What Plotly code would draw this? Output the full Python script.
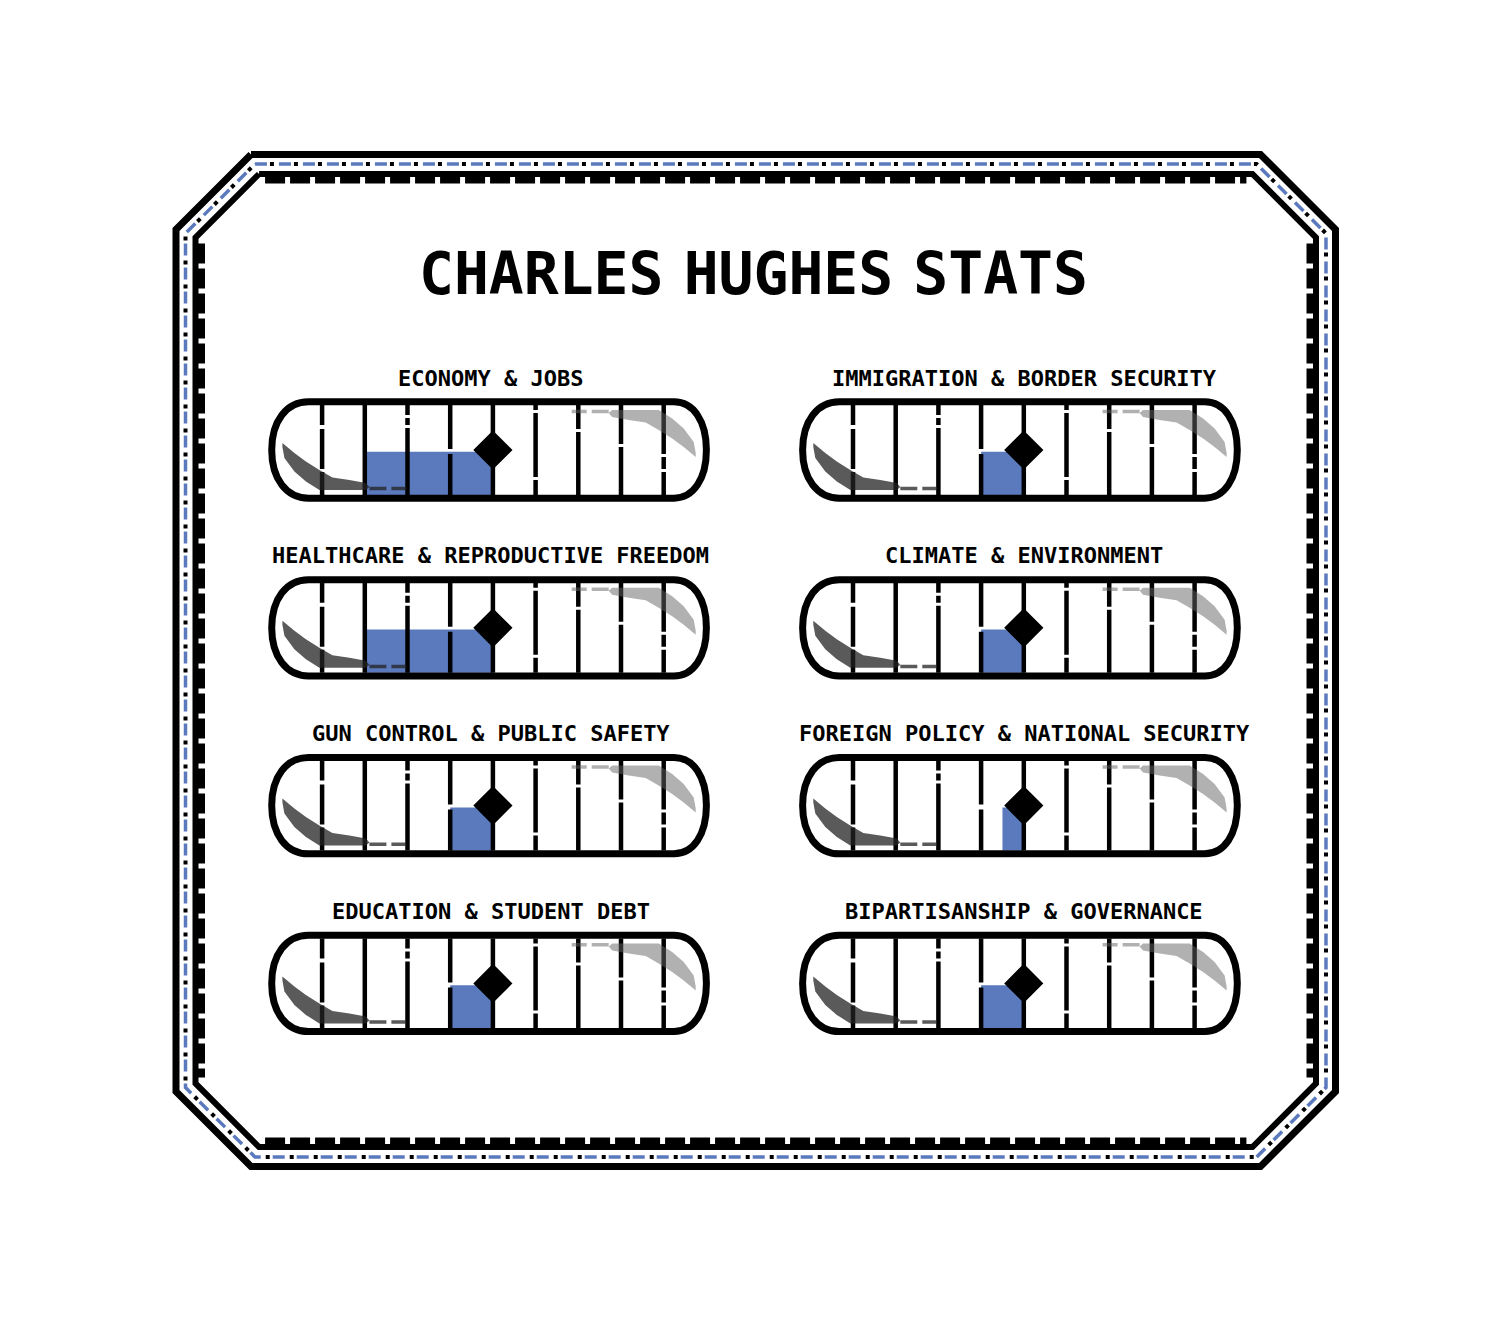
import plotly.graph_objects as go

# ---------------- data ----------------
title_text = "CHARLES HUGHES STATS"
topics = [
    "ECONOMY & JOBS", "IMMIGRATION & BORDER SECURITY",
    "HEALTHCARE & REPRODUCTIVE FREEDOM", "CLIMATE & ENVIRONMENT",
    "GUN CONTROL & PUBLIC SAFETY", "FOREIGN POLICY & NATIONAL SECURITY",
    "EDUCATION & STUDENT DEBT", "BIPARTISANSHIP & GOVERNANCE",
]
scores = [2, 4, 2, 4, 4, 4.5, 4, 4]
neutral = 5
scale_min, scale_max = 0, 10
tick_values = [1, 2, 3, 4, 5, 6, 7, 8, 9]

# ---------------- style / layout constants ----------------
W, H = 1512, 1323
BLUE = "#5a7abd"
FONT = "DejaVu Sans Mono"
UNIT = 42.7          # px per scale unit
INNER_H = 90.0       # px of gauge inner height (y axis 0..1)
COL_ZERO = [279.4, 810.3]
ROW_BOTTOM0, ROW_STEP = 495.0, 177.8
LABEL_X = [490.5, 1024.0]
LABEL_Y0 = 378.0
BAR_H = 0.48
# glint gaps on grid lines (px from top of gauge interior), per tick
GAPS = {1: [(20, 24), (64, 67)], 2: [], 3: [(10, 13), (20, 23)], 4: [(44, 49)],
        5: [], 6: [(5, 8), (72, 75)], 7: [(24, 27)], 8: [(39, 42)],
        9: [(49, 52), (64, 67)]}


def px_x(p):
    return p / W


def px_y(p):
    return 1 - p / H


fig = go.Figure()
shapes = []
annotations = []

# ---------------- card border ----------------
def octagon(L, T, R, B, c):
    pts = [(L + c, T), (R - c, T), (R, T + c), (R, B - c), (R - c, B),
           (L + c, B), (L, B - c), (L, T + c), (L + c, T)]
    return "M" + " L".join(f"{px_x(x):.5f},{px_y(y):.5f}" for x, y in pts)


L0, T0, R0, B0, C0 = 176.0, 154.5, 1335.5, 1166.5, 75.0


def inset(d):
    return L0 + d, T0 + d, R0 - d, B0 - d, C0 - 0.5858 * d


shapes.append(dict(type="path", xref="paper", yref="paper", path=octagon(L0, T0, R0, B0, C0),
                   line=dict(color="black", width=7)))
shapes.append(dict(type="path", xref="paper", yref="paper", path=octagon(*inset(9.5)),
                   line=dict(color=BLUE, width=3.5, dash="12px,12px")))
shapes.append(dict(type="path", xref="paper", yref="paper", path=octagon(*inset(9.5)),
                   line=dict(color="black", width=4, dash="0px,15px,4px,5px")))
Li, Ti, Ri, Bi, Ci = inset(19.5)
shapes.append(dict(type="path", xref="paper", yref="paper", path=octagon(Li, Ti, Ri, Bi, Ci),
                   line=dict(color="black", width=6)))
# scalloped inner band (straight sides only)
bd = 6.0
for (x0, y0, x1, y1) in [
    (Li + Ci + 6, Ti + bd, Ri - Ci - 6, Ti + bd),
    (Li + Ci + 6, Bi - bd, Ri - Ci - 6, Bi - bd),
    (Li + bd, Ti + Ci + 6, Li + bd, Bi - Ci - 6),
    (Ri - bd, Ti + Ci + 6, Ri - bd, Bi - Ci - 6),
]:
    shapes.append(dict(type="line", xref="paper", yref="paper",
                       x0=px_x(x0), y0=px_y(y0), x1=px_x(x1), y1=px_y(y1),
                       line=dict(color="black", width=7, dash="20px,5px")))

# ---------------- title ----------------
narrow_space = "<span style='font-family:DejaVu Sans'> </span>"
annotations.append(dict(text="<b>" + title_text.replace(" ", narrow_space) + "</b>",
                        x=px_x(753.5), y=px_y(273.5),
                        xref="paper", yref="paper", showarrow=False,
                        xanchor="center", yanchor="middle",
                        font=dict(family=FONT, size=58, color="black")))

# ---------------- gauges ----------------
X_RANGE = [-0.5, 10.5]
Y_RANGE = [-0.35, 1.35]
PILL_L, PILL_R = -0.18, 10.0
CAP_RX_L, CAP_RX_R = 0.86, 0.76
PILL_TOP, PILL_BOT = 1.035, -0.035
K = 0.6
CENTER_X = (PILL_L + PILL_R) / 2

dark_top = [(3, 52), (15, 42), (26.5, 33.5), (40, 25), (53, 17.5), (70, 15), (86.5, 12), (90, 8)]
dark_bot = [(86.5, 5), (40, 5), (26.5, 13.5), (15, 23.5), (5, 37), (3, 48)]

for i, (topic, score) in enumerate(zip(topics, scores)):
    r, c = divmod(i, 2)
    n = i + 2
    xa, ya = f"x{n}", f"y{n}"
    zero = COL_ZERO[c]
    bottom = ROW_BOTTOM0 + ROW_STEP * r
    fig.update_layout({
        f"xaxis{n}": dict(domain=[px_x(zero + X_RANGE[0] * UNIT), px_x(zero + X_RANGE[1] * UNIT)],
                          range=X_RANGE, visible=False, fixedrange=True, anchor=ya),
        f"yaxis{n}": dict(domain=[px_y(bottom - Y_RANGE[0] * INNER_H), px_y(bottom - Y_RANGE[1] * INNER_H)],
                          range=Y_RANGE, visible=False, fixedrange=True, anchor=xa),
    })

    # bar from score to neutral
    fig.add_trace(go.Bar(x=[neutral - score], base=[score], y=[BAR_H / 2], width=[BAR_H],
                         orientation="h", marker=dict(color=BLUE, line=dict(width=0)),
                         xaxis=xa, yaxis=ya, hoverinfo="skip", showlegend=False))

    # grid lines at each tick with glint gaps
    lx, ly = [], []
    for t in tick_values:
        cuts = [0] + [v for g in GAPS.get(t, []) for v in g] + [INNER_H]
        for k in range(0, len(cuts), 2):
            lx += [t, t, None]
            ly += [1 - cuts[k] / INNER_H, 1 - cuts[k + 1] / INNER_H, None]
    fig.add_trace(go.Scatter(x=lx, y=ly, mode="lines", line=dict(color="black", width=4.5),
                             xaxis=xa, yaxis=ya, hoverinfo="skip", showlegend=False))

    # diamond marker at neutral
    fig.add_trace(go.Scatter(x=[neutral], y=[0.5], mode="markers",
                             marker=dict(symbol="diamond", size=28, color="black",
                                         line=dict(color="black", width=2)),
                             xaxis=xa, yaxis=ya, hoverinfo="skip", showlegend=False))

    # pill outline
    cl, cr = PILL_L + CAP_RX_L, PILL_R - CAP_RX_R
    cy, ry = (PILL_TOP + PILL_BOT) / 2, (PILL_TOP - PILL_BOT) / 2
    path = (f"M{cl},{PILL_TOP} L{cr},{PILL_TOP} "
            f"C{cr + K * CAP_RX_R},{PILL_TOP} {PILL_R},{cy + K * ry} {PILL_R},{cy} "
            f"C{PILL_R},{cy - K * ry} {cr + K * CAP_RX_R},{PILL_BOT} {cr},{PILL_BOT} "
            f"L{cl},{PILL_BOT} "
            f"C{cl - K * CAP_RX_L},{PILL_BOT} {PILL_L},{cy - K * ry} {PILL_L},{cy} "
            f"C{PILL_L},{cy + K * ry} {cl - K * CAP_RX_L},{PILL_TOP} {cl},{PILL_TOP} Z")
    shapes.append(dict(type="path", xref=xa, yref=ya, path=path, layer="above",
                       line=dict(color="black", width=7)))

    # decorative sheen swooshes
    pts = [(dx / UNIT, dy / INNER_H) for dx, dy in dark_top + dark_bot]
    p_dark = "M" + " L".join(f"{x:.4f},{y:.4f}" for x, y in pts) + " Z"
    p_light = "M" + " L".join(f"{2 * CENTER_X - x:.4f},{1 - y:.4f}" for x, y in pts) + " Z"
    shapes.append(dict(type="path", xref=xa, yref=ya, path=p_dark, layer="above",
                       fillcolor="rgba(35,35,35,0.75)", line=dict(width=0)))
    shapes.append(dict(type="path", xref=xa, yref=ya, path=p_light, layer="above",
                       fillcolor="rgba(100,100,100,0.5)", line=dict(width=0)))
    shapes.append(dict(type="line", xref=xa, yref=ya, x0=90 / UNIT, x1=127 / UNIT,
                       y0=6.4 / INNER_H, y1=6.4 / INNER_H, layer="above",
                       line=dict(color="rgba(35,35,35,0.75)", width=3.5, dash="17px,5px")))
    shapes.append(dict(type="line", xref=xa, yref=ya, x0=2 * CENTER_X - 90 / UNIT,
                       x1=2 * CENTER_X - 127 / UNIT,
                       y0=1 - 6.4 / INNER_H, y1=1 - 6.4 / INNER_H, layer="above",
                       line=dict(color="rgba(100,100,100,0.5)", width=3.5, dash="17px,5px")))

    # label
    annotations.append(dict(text=f"<b>{topic}</b>", x=px_x(LABEL_X[c]),
                            y=px_y(LABEL_Y0 + ROW_STEP * r),
                            xref="paper", yref="paper", showarrow=False,
                            xanchor="center", yanchor="middle",
                            font=dict(family=FONT, size=22, color="black")))

fig.update_layout(width=W, height=H, margin=dict(l=0, r=0, t=0, b=0),
                  paper_bgcolor="white", plot_bgcolor="rgba(0,0,0,0)",
                  showlegend=False, shapes=shapes, annotations=annotations,
                  barmode="overlay")
fig.write_html("out.html")
